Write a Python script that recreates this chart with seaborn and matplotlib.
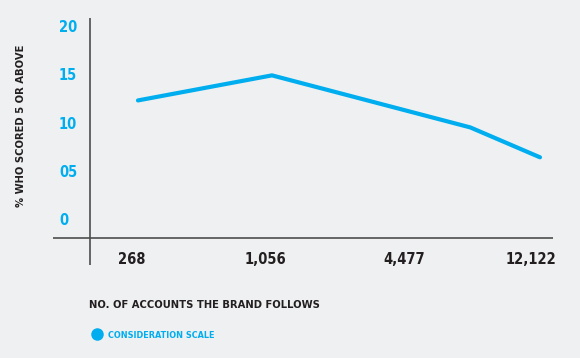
import matplotlib
matplotlib.use("Agg")
import matplotlib.pyplot as plt
import matplotlib.font_manager as fm
import seaborn as sns
import pandas as pd
from matplotlib.lines import Line2D

# Data
accounts = ["268", "1,056", "4,477", "12,122"]
x_points = [0.0, 1.0, 2.48, 3.0]
tick_pos = [-0.05, 0.95, 1.99, 2.93]
scores = [12.3, 14.9, 9.5, 6.4]
y_ticks = [0, 5, 10, 15, 20]
y_labels = ["0", "05", "10", "15", "20"]

df = pd.DataFrame({"x": x_points, "score": scores, "series": "CONSIDERATION SCALE"})

bg = "#eff0f2"
cyan = "#00aeef"
dark = "#231f20"

# look for a narrow bold face, the original uses a condensed display font
narrow = None
for f in fm.fontManager.ttflist:
    nm = f.name + " " + str(f.stretch)
    if ("Narrow" in nm or "ondensed" in nm) and f.weight in ("bold", 700):
        narrow = f.fname
        break
if narrow:
    def fp(size):
        return fm.FontProperties(fname=narrow, size=size)
else:
    def fp(size):
        return fm.FontProperties(family="DejaVu Sans", weight="bold", size=size * 0.8)

sns.set_style("white")
plt.rcParams["font.family"] = ["DejaVu Sans"]

fig = plt.figure(figsize=(5.8, 3.58), dpi=100, facecolor=bg)
# axes box spans the crossing axis lines (pixels 53..553 x, 18..265 y)
ax = fig.add_axes([53 / 580, 1 - 265 / 358, 500 / 580, 247 / 358])
ax.set_facecolor(bg)

sns.lineplot(data=df, x="x", y="score", color=cyan, linewidth=3, ax=ax, legend=False)

ax.set_xlim(-0.634, 3.097)
ax.set_ylim(-4.77, 20.85)
for s in ax.spines.values():
    s.set_visible(False)

ax.axhline(-2, color="#4d4d4d", lw=1.2)
ax.axvline(-0.36, color="#4d4d4d", lw=1.2)

ax.set_yticks(y_ticks)
ax.set_yticklabels(y_labels, color=cyan, ha="left", fontproperties=fp(10.5))
ax.tick_params(axis="y", length=0, pad=0)
ax.set_xticks(tick_pos)
ax.set_xticklabels(accounts, color=dark, fontproperties=fp(10.5))
ax.tick_params(axis="x", length=0, pad=-9)
for lbl in ax.get_yticklabels():
    lbl.set_x(0.012)

ax.set_xlabel("")
ax.set_ylabel("")
fig.text(21 / 580, 1 - 126 / 358, "% WHO SCORED 5 OR ABOVE", rotation=90,
         ha="center", va="center", fontproperties=fp(8), color=dark)
fig.text(89 / 580, 1 - 305 / 358, "NO. OF ACCOUNTS THE BRAND FOLLOWS",
         ha="left", va="center", fontproperties=fp(8), color=dark)

handle = Line2D([], [], marker="o", ls="", color=cyan, markersize=8)
leg = fig.legend([handle], ["CONSIDERATION SCALE"], loc="center left",
                 bbox_to_anchor=(88 / 580, 1 - 335 / 358), frameon=False,
                 handletextpad=0.2, borderaxespad=0, borderpad=0,
                 prop=fp(6.5))
for t in leg.get_texts():
    t.set_color(cyan)

fig.savefig("out.png", dpi=100, facecolor=bg)
